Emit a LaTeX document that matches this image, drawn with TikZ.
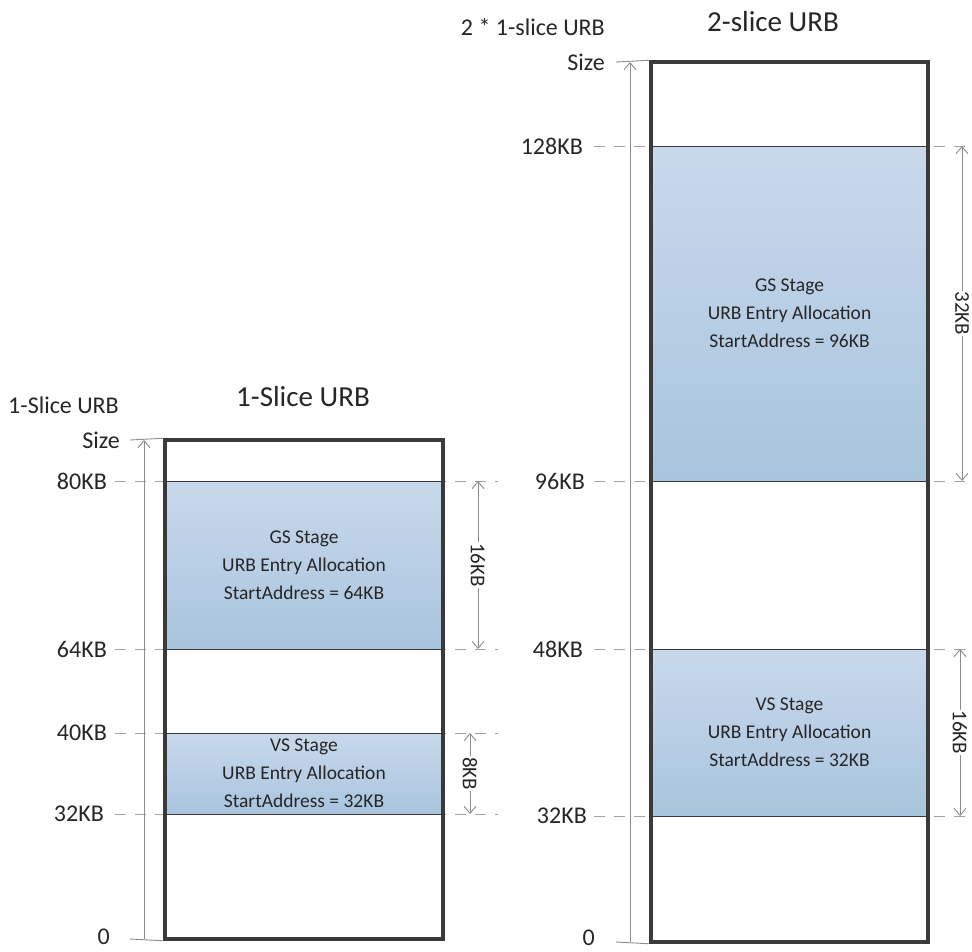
\documentclass[tikz,border=0pt]{standalone}
\usepackage{fontspec}
\setmainfont{Carlito}
\usetikzlibrary{arrows.meta}
\definecolor{txt}{HTML}{262626}
\definecolor{boxc}{HTML}{3A3A3A}
\definecolor{dimc}{HTML}{8C8C8C}
\definecolor{ftop}{HTML}{C8D9EB}
\definecolor{fbot}{HTML}{A9C4DE}
\begin{document}
\begin{tikzpicture}[x=1pt,y=-1pt,
  axlbl/.style={font=\fontsize{24}{28}\selectfont, text=txt, anchor=east, inner sep=0pt},
  ttl/.style={font=\fontsize{29}{33}\selectfont, text=txt, inner sep=0pt},
  stage/.style={draw=boxc, line width=1pt, top color=ftop, bottom color=fbot, align=center,
    font=\fontsize{19.5}{28}\selectfont, text=txt, inner sep=0pt},
  urbbox/.style={draw=boxc, line width=3.5pt, inner sep=0pt},
  dashln/.style={draw=dimc!80, line width=0.9pt, dash pattern=on 11pt off 9pt},
  tick/.style={draw=dimc, line width=0.9pt},
  dimarr/.style={draw=dimc, line width=0.9pt, -{Straight Barb[length=7pt,width=12pt]}},
  dimarr2/.style={draw=dimc, line width=0.9pt, {Straight Barb[length=7pt,width=12pt]}-{Straight Barb[length=7pt,width=12pt]}},
  dimlbl/.style={fill=white, rotate=-90, font=\fontsize{21}{24}\selectfont, text=txt, inner sep=1pt}
]
\useasboundingbox (0,0) rectangle (972,951);

% ---------------- left diagram ----------------
\draw[dashln] (115,481) -- (498,481);
\draw[dashln] (115,649) -- (498,649);
\draw[dashln] (115,733) -- (498,733);
\draw[dashln] (115,814) -- (498,814);

\node[stage, minimum width=278pt, minimum height=168pt] (gsL) at (304,565)
  {GS Stage\\URB Entry Allocation\\StartAddress = 64KB};
\node[stage, minimum width=278pt, minimum height=81pt] (vsL) at (304,773.5)
  {VS Stage\\URB Entry Allocation\\StartAddress = 32KB};

\node[urbbox, minimum width=278pt, minimum height=499pt] (boxL) at (304,689.5) {};

\coordinate (LszTop) at (144,440);
\coordinate (LszBot) at (144,939);
\draw[tick] (130,440) -- (boxL.north west);
\draw[tick] (130,939) -- (boxL.south west);
\draw[dimarr] (LszBot) -- (LszTop);

\coordinate (L16a) at (478,481);
\coordinate (L16b) at (478,649);
\draw[dimarr2] (L16a) -- node[dimlbl] (l16) {16KB} (L16b);
\coordinate (L8a) at (470,733);
\coordinate (L8b) at (470,814);
\draw[dimarr2] (L8a) -- node[dimlbl] (l8) {8KB} (L8b);

\node[axlbl] (lsize) at (120,440) {Size};
\node[axlbl] (l80) at (107,481) {80KB};
\node[axlbl] (l64) at (107,649) {64KB};
\node[axlbl] (l40) at (107,733) {40KB};
\node[axlbl] (l32) at (104,814) {32KB};
\node[axlbl] (l0) at (110,937) {0};
\node[axlbl] (l1s) at (119,405) {1-Slice URB};
\node[ttl] (ttlL) at (303,397) {1-Slice URB};

% ---------------- right diagram ----------------
\draw[dashln] (594,146) -- (972,146);
\draw[dashln] (594,481) -- (972,481);
\draw[dashln] (594,649) -- (972,649);
\draw[dashln] (594,816) -- (972,816);

\node[stage, minimum width=277pt, minimum height=335pt] (gsR) at (789.5,313.5)
  {\fontsize{19.5}{30}\selectfont GS Stage\\URB Entry Allocation\\StartAddress = 96KB};
\node[stage, minimum width=277pt, minimum height=167pt] (vsR) at (789.5,732.5)
  {VS Stage\\URB Entry Allocation\\StartAddress = 32KB};

\node[urbbox, minimum width=277pt, minimum height=880pt] (boxR) at (789.5,502) {};

\coordinate (RszTop) at (630,62);
\coordinate (RszBot) at (630,942);
\draw[tick] (616,62) -- (boxR.north west);
\draw[tick] (616,942) -- (boxR.south west);
\draw[dimarr] (RszBot) -- (RszTop);

\coordinate (R32a) at (962,146);
\coordinate (R32b) at (962,481);
\draw[dimarr2] (R32a) -- node[dimlbl] (r32) {32KB} (R32b);
\coordinate (R16a) at (960,649);
\coordinate (R16b) at (960,816);
\draw[dimarr2] (R16a) -- node[dimlbl] (r16) {16KB} (R16b);

\node[axlbl] (rsize) at (605,62) {Size};
\node[axlbl] (r128) at (583,146) {128KB};
\node[axlbl] (r96) at (585,481) {96KB};
\node[axlbl] (r48) at (583,649) {48KB};
\node[axlbl] (r32l) at (587,816) {32KB};
\node[axlbl] (r0) at (595,938) {0};
\node[axlbl, font=\fontsize{24}{28}\selectfont] (r2x) at (605,27) {2 * 1-slice URB};
\node[ttl] (ttlR) at (773,22) {2-slice URB};
\end{tikzpicture}
\end{document}
